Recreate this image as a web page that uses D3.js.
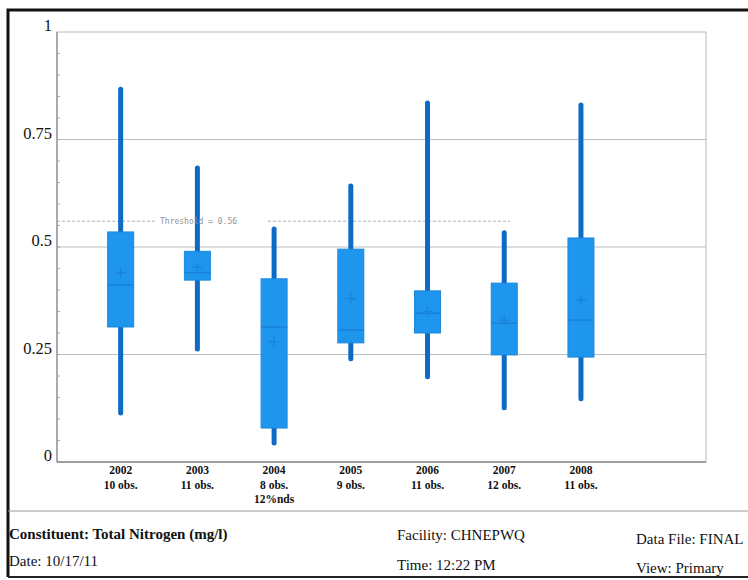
<!doctype html>
<html lang="en">
<head>
    <meta charset="utf-8">
    <title>Total Nitrogen box plot</title>
    <style>
        body {
            margin: 0;
            background-color: white;
        }
        svg {
            display: block;
            font-family: "Liberation Serif", "Times New Roman", serif;
        }
    </style>
</head>
<body>
    <svg width="748" height="580"></svg>

    <script src="https://d3js.org/d3.v7.min.js"></script>
    <script>
        // values
        var years = [2002, 2003, 2004, 2005, 2006, 2007, 2008];
        var obsLabels = ["10 obs.", "11 obs.", "8 obs.", "9 obs.", "11 obs.", "12 obs.", "11 obs."];
        var ndsLabels = ["", "", "12%nds", "", "", "", ""];
        var mins = [0.114, 0.263, 0.044, 0.240, 0.198, 0.126, 0.147];
        var q1 = [0.314, 0.423, 0.079, 0.277, 0.300, 0.249, 0.244];
        var medians = [0.412, 0.440, 0.314, 0.307, 0.346, 0.323, 0.330];
        var means = [0.440, 0.453, 0.280, 0.380, 0.350, 0.330, 0.377];
        var q3 = [0.535, 0.490, 0.426, 0.495, 0.398, 0.416, 0.521];
        var maxs = [0.867, 0.684, 0.542, 0.642, 0.835, 0.533, 0.830];
        var yTicks = [0, 0.25, 0.5, 0.75, 1];
        var yTickLabels = ["0", "0.25", "0.5", "0.75", "1"];
        var threshold = 0.56;

        var svg = d3.select("svg");

        // plot area (window.top is reserved, so prefixed names)
        var plotL = 57, plotR = 706, plotT = 32, plotB = 462;

        var x = d3.scaleLinear()
            .domain([2001.17, 2009.63])
            .range([plotL, plotR]);

        var y = d3.scaleLinear()
            .domain([0, 1])
            .range([plotB, plotT]);

        var boxes = years.map(function(yr, i) {
            return {
                year: yr, obs: obsLabels[i], nds: ndsLabels[i],
                min: mins[i], q1: q1[i], med: medians[i], mean: means[i],
                q3: q3[i], max: maxs[i]
            };
        });

        // page frame
        svg.append("path")
            .attr("d", "M8,577 L8,10 L748,10")
            .attr("fill", "none")
            .attr("stroke", "#111")
            .attr("stroke-width", 3);
        svg.append("line")
            .attr("x1", 8).attr("x2", 748)
            .attr("y1", 577).attr("y2", 577)
            .attr("stroke", "#222")
            .attr("stroke-width", 2);
        svg.append("line")
            .attr("x1", 8).attr("x2", 748)
            .attr("y1", 511).attr("y2", 511)
            .attr("stroke", "#999")
            .attr("stroke-width", 1);

        // plot box + gridlines
        svg.append("rect")
            .attr("x", plotL).attr("y", plotT)
            .attr("width", plotR - plotL).attr("height", plotB - plotT)
            .attr("fill", "none")
            .attr("stroke", "#b8bcbc");

        svg.append("g")
            .selectAll("line")
            .data(yTicks.slice(1, -1))
            .enter().append("line")
            .attr("x1", plotL).attr("x2", plotR)
            .attr("y1", function(d) { return y(d); })
            .attr("y2", function(d) { return y(d); })
            .attr("stroke", "#b8c0c0")
            .attr("stroke-width", 1.2);

        // minor ticks on the left axis
        svg.append("g")
            .selectAll("line")
            .data(d3.range(0.05, 1, 0.05))
            .enter().append("line")
            .attr("x1", plotL).attr("x2", plotL + 3)
            .attr("y1", function(d) { return y(d); })
            .attr("y2", function(d) { return y(d); })
            .attr("stroke", "#aaa");

        svg.append("line")
            .attr("x1", plotL).attr("x2", plotL)
            .attr("y1", plotT).attr("y2", plotB)
            .attr("stroke", "#999").attr("stroke-width", 1.5);
        svg.append("line")
            .attr("x1", plotL).attr("x2", plotR)
            .attr("y1", plotB).attr("y2", plotB)
            .attr("stroke", "#888").attr("stroke-width", 1.5);

        // y labels
        svg.append("g")
            .selectAll("text")
            .data(yTicks)
            .enter().append("text")
            .attr("x", plotL - 5)
            .attr("y", function(d) { return y(d) - 1; })
            .attr("text-anchor", "end")
            .attr("font-size", 16.5)
            .attr("fill", "#111")
            .text(function(d, i) { return yTickLabels[i]; });

        // threshold line with its label
        var ty = y(threshold);
        svg.append("line")
            .attr("x1", plotL).attr("x2", 156)
            .attr("y1", ty).attr("y2", ty)
            .attr("stroke", "#aab4b8")
            .attr("stroke-dasharray", "3,2");
        svg.append("line")
            .attr("x1", 268).attr("x2", 510)
            .attr("y1", ty).attr("y2", ty)
            .attr("stroke", "#aab4b8")
            .attr("stroke-dasharray", "3,2");

        var bw = 26;
        var g = svg.append("g").selectAll("g")
            .data(boxes)
            .enter().append("g");

        // whiskers
        g.append("line")
            .attr("x1", function(d) { return x(d.year); })
            .attr("x2", function(d) { return x(d.year); })
            .attr("y1", function(d) { return y(d.min); })
            .attr("y2", function(d) { return y(d.max); })
            .attr("stroke", "#0d6bc6")
            .attr("stroke-width", 5)
            .attr("stroke-linecap", "round");

        g.append("rect")
            .attr("x", function(d) { return x(d.year) - bw / 2; })
            .attr("y", function(d) { return y(d.q3); })
            .attr("width", bw)
            .attr("height", function(d) { return y(d.q1) - y(d.q3); })
            .attr("fill", "#1f96ee")
            .attr("stroke", "#1a88dc")
            .attr("stroke-width", 1);

        // median line
        g.append("line")
            .attr("x1", function(d) { return x(d.year) - bw / 2; })
            .attr("x2", function(d) { return x(d.year) + bw / 2; })
            .attr("y1", function(d) { return y(d.med); })
            .attr("y2", function(d) { return y(d.med); })
            .attr("stroke", "#1982d6")
            .attr("stroke-width", 1.5);

        // mean cross
        g.append("path")
            .attr("d", function(d) {
                var cx = x(d.year), cy = y(d.mean);
                return "M" + (cx - 5) + "," + cy + "H" + (cx + 5) +
                    "M" + cx + "," + (cy - 5) + "V" + (cy + 5);
            })
            .attr("stroke", "#1982d6")
            .attr("stroke-width", 1.2);

        // threshold label sits on top of the whiskers
        svg.append("text")
            .attr("x", 160).attr("y", ty + 3)
            .attr("font-family", "'DejaVu Sans Mono', monospace")
            .attr("font-size", 8)
            .attr("fill", "#8a9498")
            .text("Threshold = " + threshold);

        // x labels
        var lab = svg.append("g").selectAll("text")
            .data(boxes)
            .enter().append("text")
            .attr("text-anchor", "middle")
            .attr("font-size", 11.5)
            .attr("font-weight", "bold")
            .attr("fill", "#111");
        lab.append("tspan")
            .attr("x", function(d) { return x(d.year); })
            .attr("y", 474)
            .text(function(d) { return d.year; });
        lab.append("tspan")
            .attr("x", function(d) { return x(d.year); })
            .attr("y", 489)
            .text(function(d) { return d.obs; });
        lab.append("tspan")
            .attr("x", function(d) { return x(d.year); })
            .attr("y", 503)
            .text(function(d) { return d.nds; });

        // footer
        var footer = [
            { x: 9, y: 539, text: "Constituent: Total Nitrogen (mg/l)", bold: true },
            { x: 397, y: 540, text: "Facility: CHNEPWQ", bold: false },
            { x: 636, y: 544, text: "Data File: FINAL", bold: false },
            { x: 9, y: 566, text: "Date: 10/17/11", bold: false },
            { x: 397, y: 570, text: "Time: 12:22 PM", bold: false },
            { x: 636, y: 573, text: "View: Primary", bold: false }
        ];
        svg.append("g").selectAll("text")
            .data(footer)
            .enter().append("text")
            .attr("x", function(d) { return d.x; })
            .attr("y", function(d) { return d.y; })
            .attr("font-size", 15)
            .attr("font-weight", function(d) { return d.bold ? "bold" : "normal"; })
            .attr("fill", "#111")
            .text(function(d) { return d.text; });
    </script>
</body>
</html>
